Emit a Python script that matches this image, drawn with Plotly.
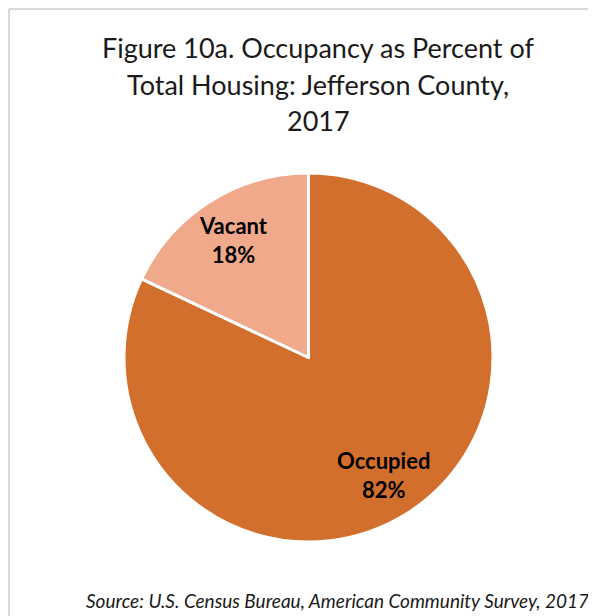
import math
import plotly.graph_objects as go

labels = ["Occupied", "Vacant"]
values = [82, 18]
colors = ["#D36F2C", "#F0A98A"]
title_lines = ["Figure 10a. Occupancy as Percent of", "Total Housing: Jefferson County,", "2017"]
source = "Source: U.S. Census Bureau, American Community Survey, 2017"

# page has an 8px body margin; figure placed at (8, 8)
OFF = 8
W, H = 588, 608
cx, cy, r = 308.5 - OFF, 357.5 - OFF, 184.5


def px(x):
    return x / W


def py(y):
    return 1 - y / H


fig = go.Figure(go.Pie(
    labels=labels, values=values, sort=False, direction="clockwise", rotation=0,
    marker=dict(colors=colors, line=dict(color="white", width=3)),
    textinfo="none",
    domain=dict(x=[px(cx - r), px(cx + r)], y=[py(cy + r), py(cy - r)]),
    showlegend=False, hoverinfo="label+percent",
))

annotations = []
# slice labels placed along each slice's bisector (clockwise from 12 o'clock)
total = sum(values)
start = 0.0
for lab, v in zip(labels, values):
    frac = v / total
    mid = (start + frac / 2) * 2 * math.pi
    start += frac
    d = 0.755 * r
    x = cx + d * math.sin(mid)
    y = cy - d * math.cos(mid)
    annotations.append(dict(text=f"<b>{lab}<br>{round(frac * 100)}%</b>", x=px(x), y=py(y),
                            xref="paper", yref="paper", xanchor="center", yanchor="middle",
                            showarrow=False, align="center",
                            font=dict(family="Lato", size=22, color="black")))

for i, line in enumerate(title_lines):
    annotations.append(dict(text=line, x=px(318 - OFF), y=py(47 + 37 * i - OFF), xref="paper", yref="paper",
                            xanchor="center", yanchor="middle", showarrow=False,
                            font=dict(family="Lato", size=27, color="#1a1a1a")))
annotations.append(dict(text="<i>" + source + "</i>", x=px(591 - OFF), y=py(600 - OFF), xref="paper", yref="paper",
                        xanchor="right", yanchor="middle", showarrow=False,
                        font=dict(family="Lato", size=19, color="#1a1a1a")))

shapes = [
    dict(type="line", xref="paper", yref="paper", x0=px(1), x1=1, y0=py(1), y1=py(1),
         line=dict(color="#D9D9D9", width=2)),
    dict(type="line", xref="paper", yref="paper", x0=px(1), x1=px(1), y0=0, y1=py(1),
         line=dict(color="#D9D9D9", width=2)),
]

fig.update_layout(width=W, height=H, margin=dict(l=0, r=0, t=0, b=0),
                  paper_bgcolor="white", plot_bgcolor="white",
                  annotations=annotations, shapes=shapes)
fig.write_html("out.html")
